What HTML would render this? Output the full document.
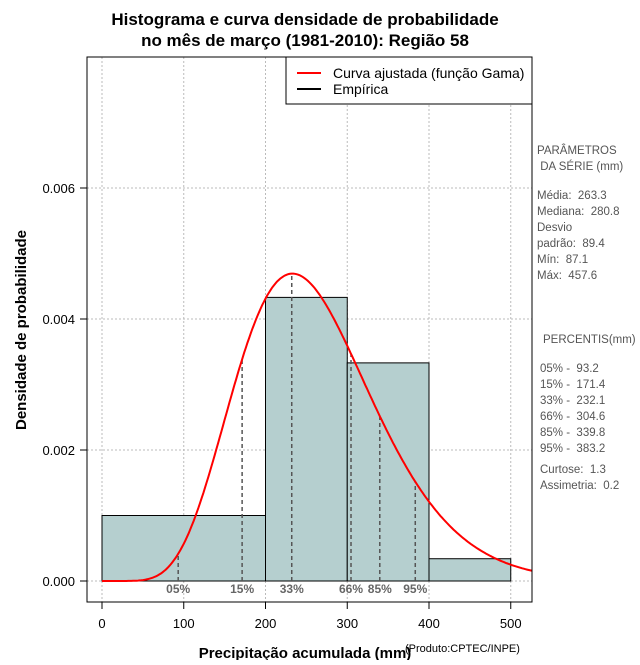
<!DOCTYPE html>
<html><head><meta charset="utf-8"><style>
body{margin:0;background:#fff;}
svg text{font-family:"Liberation Sans",sans-serif;}
.pre text{white-space:pre;}
</style></head><body>
<svg id="c" width="640" height="660" xmlns="http://www.w3.org/2000/svg">
<defs><clipPath id="plotclip"><rect x="87" y="57" width="445" height="545"/></clipPath></defs>
<text x="305" y="25" text-anchor="middle" font-size="17" font-weight="bold">Histograma e curva densidade de probabilidade</text>
<text x="305" y="46" text-anchor="middle" font-size="17" font-weight="bold">no mês de março (1981-2010): Região 58</text>
<g id="grid"></g>
<g id="bars"></g>
<g id="pct"></g>
<path id="curve" fill="none" stroke="#f00" stroke-width="2" clip-path="url(#plotclip)"/>
<rect x="87" y="57" width="445" height="545" fill="none" stroke="#000"/>
<g id="axes"></g>
<g>
<rect x="286" y="57" width="246" height="47" fill="#fff" stroke="#000"/>
<line x1="297" y1="73" x2="321" y2="73" stroke="#f00" stroke-width="2"/>
<text x="333" y="78" font-size="14">Curva ajustada (função Gama)</text>
<line x1="297" y1="89" x2="321" y2="89" stroke="#000" stroke-width="2"/>
<text x="333" y="94" font-size="14">Empírica</text>
</g>
<text x="305" y="658" text-anchor="middle" font-size="15" font-weight="bold">Precipitação acumulada (mm)</text>
<text x="405" y="652" font-size="11">(Produto:CPTEC/INPE)</text>
<text transform="translate(26,330) rotate(-90)" text-anchor="middle" font-size="15" font-weight="bold">Densidade de probabilidade</text>
<g class="pre" font-size="11.5" fill="#555">
<text x="537" y="154">PARÂMETROS</text>
<text x="537" y="170"> DA SÉRIE (mm)</text>
<text x="537" y="199">Média:  263.3</text>
<text x="537" y="215">Mediana:  280.8</text>
<text x="537" y="231">Desvio</text>
<text x="537" y="247">padrão:  89.4</text>
<text x="537" y="263">Mín:  87.1</text>
<text x="537" y="279">Máx:  457.6</text>
<text x="543" y="343">PERCENTIS(mm)</text>
<text x="540" y="372">05% -  93.2</text>
<text x="540" y="388">15% -  171.4</text>
<text x="540" y="404">33% -  232.1</text>
<text x="540" y="420">66% -  304.6</text>
<text x="540" y="436">85% -  339.8</text>
<text x="540" y="452">95% -  383.2</text>
<text x="540" y="473">Curtose:  1.3</text>
<text x="540" y="489">Assimetria:  0.2</text>
</g>
</svg>
<script>
const binEdges=[0,200,300,400,500];
const binDensity=[0.001,0.00433,0.00333,0.00034];
const xTicks=[0,100,200,300,400,500];
const yTicks=[0,0.002,0.004,0.006];
const yTickLabels=["0.000","0.002","0.004","0.006"];
const pctLabels=["05%","15%","33%","66%","85%","95%"];
const pctValues=[93.2,171.4,232.1,304.6,339.8,383.2];
const fitMean=[263.3];
const fitSd=[89.4];
const NS="http://www.w3.org/2000/svg";
const X=v=>102+v*0.8175, Y=v=>581-v*65500;
function mk(t,a,p){const e=document.createElementNS(NS,t);for(const k in a)e.setAttribute(k,a[k]);p.appendChild(e);return e;}
const grid=document.getElementById('grid'),bars=document.getElementById('bars'),pct=document.getElementById('pct'),axes=document.getElementById('axes');
xTicks.forEach(v=>{const l=mk('line',{x1:X(v),x2:X(v),y1:57,y2:602,stroke:'#bbb','stroke-dasharray':'2,2'},grid);

});
yTicks.forEach(v=>{const l=mk('line',{x1:87,x2:532,y1:Y(v),y2:Y(v),stroke:'#bbb','stroke-dasharray':'2,2'},grid);

});
binDensity.forEach((d,i)=>{const x0=X(binEdges[i]),x1=X(binEdges[i+1]);
const r=mk('rect',{x:x0,y:Y(d),width:x1-x0,height:Y(0)-Y(d),fill:'#b5cfcf',stroke:'#000','stroke-width':1},bars);

});
mk('line',{x1:X(0),x2:X(500),y1:Y(0),y2:Y(0),stroke:'#000','stroke-dasharray':'1,2'},bars);
const k=(fitMean[0]/fitSd[0])**2, th=fitSd[0]**2/fitMean[0];
function lgamma(z){const g=7,c=[0.99999999999980993,676.5203681218851,-1259.1392167224028,771.32342877765313,-176.61502916214059,12.507343278686905,-0.13857109526572012,9.9843695780195716e-6,1.5056327351493116e-7];z-=1;let a=c[0];const t=z+g+0.5;for(let i=1;i<9;i++)a+=c[i]/(z+i);return 0.5*Math.log(2*Math.PI)+(z+0.5)*Math.log(t)-t+Math.log(a);}
const lg=lgamma(k);
const pdf=x=>x<=0?0:Math.exp((k-1)*Math.log(x)-x/th-lg-k*Math.log(th));
let d='';for(let x=0;x<=540;x+=2){d+=(x?'L':'M')+X(x).toFixed(1)+','+Y(pdf(x)).toFixed(1);}
document.getElementById('curve').setAttribute('d',d);
pctValues.forEach((v,i)=>{const l=mk('line',{x1:X(v),x2:X(v),y1:Y(0),y2:Y(pdf(v)),stroke:'#555','stroke-width':1.5,'stroke-dasharray':'4,3'},pct);


const t=mk('text',{x:X(v),y:593,'text-anchor':'middle','font-size':12,'font-weight':'bold',fill:'#666'},pct);t.textContent=pctLabels[i];

});
xTicks.forEach(v=>{mk('line',{x1:X(v),x2:X(v),y1:602,y2:609,stroke:'#000'},axes);
const t=mk('text',{x:X(v),y:628,'text-anchor':'middle','font-size':13},axes);t.textContent=v;

});
yTicks.forEach((v,i)=>{mk('line',{x1:80,x2:87,y1:Y(v),y2:Y(v),stroke:'#000'},axes);
const t=mk('text',{x:75,y:Y(v)+5,'text-anchor':'end','font-size':13},axes);t.textContent=yTickLabels[i];

});
</script>
</body></html>
